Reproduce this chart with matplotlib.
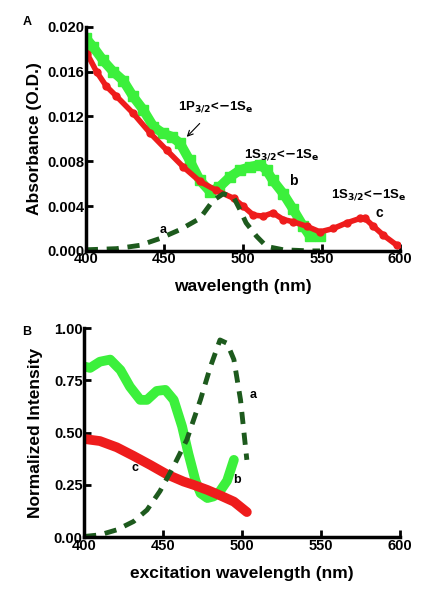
import numpy as np
import matplotlib.pyplot as plt

plt.rcParams['font.family'] = 'Liberation Sans'
plt.rcParams['font.weight'] = 'bold'
plt.rcParams['axes.labelweight'] = 'bold'
plt.rcParams['mathtext.default'] = 'bf'

# panel A - absorbance
wlA_c = [400.8, 406.8, 413, 419.5, 430, 441, 451.4, 462, 472.6, 483, 494, 500, 506.6, 513,
         519, 525.7, 532, 540.5, 549, 557.5, 566, 574.5, 577.7, 583, 589.4, 598]
absA_c = [0.0176, 0.0160, 0.0147, 0.0138, 0.0123, 0.0105, 0.0090, 0.0075, 0.0062, 0.0054,
          0.0047, 0.0040, 0.0032, 0.0031, 0.0034, 0.0028, 0.0026, 0.0022, 0.0017, 0.0020,
          0.0025, 0.0029, 0.0029, 0.0022, 0.0014, 0.0005]
wlA_b = [400, 404.7, 411, 417.4, 423.8, 430, 436.5, 443, 449, 454.6, 460, 466, 472.6, 479,
         485, 491.7, 498, 504.5, 511, 515, 519, 525.7, 532, 538.4, 542.7, 549]
absA_b = [0.0190, 0.0182, 0.0170, 0.0160, 0.0152, 0.0138, 0.0126, 0.0111, 0.0105, 0.0102,
          0.0096, 0.0081, 0.0063, 0.0053, 0.0057, 0.0066, 0.0072, 0.0075, 0.0077, 0.0072,
          0.0063, 0.0051, 0.0037, 0.0022, 0.0013, 0.0013]
wlA_a = [400, 419.5, 434.4, 447, 460, 472.6, 481, 487.5, 494, 498, 502, 508.7, 515, 525.7,
         542.7, 549]
absA_a = [0.0001, 0.0002, 0.0005, 0.0011, 0.0019, 0.0029, 0.0045, 0.0051, 0.0048, 0.0037,
          0.0025, 0.0013, 0.0004, 0.0001, 0.0, 0.0]

# panel B - excitation
wlB_b = [400, 403.8, 410, 416.5, 423, 429, 435.5, 439.8, 446, 451.4, 456.7, 462, 466, 470.5,
         473.7, 478, 482, 486, 490.5, 494.8]
intB_b = [0.817, 0.81, 0.84, 0.85, 0.80, 0.72, 0.657, 0.657, 0.70, 0.705, 0.657, 0.53, 0.40,
          0.27, 0.21, 0.187, 0.195, 0.22, 0.27, 0.37]
wlB_c = [400, 410, 420.7, 431, 442, 452.5, 463, 469.4, 478, 486, 494.8, 503]
intB_c = [0.47, 0.46, 0.43, 0.39, 0.345, 0.30, 0.266, 0.25, 0.226, 0.20, 0.17, 0.12]
wlB_a = [400, 410, 420.7, 431.3, 439.8, 448, 456.7, 465, 473.6, 480, 486, 490.5, 494.8, 499, 503]
intB_a = [0.003, 0.011, 0.035, 0.075, 0.13, 0.22, 0.34, 0.466, 0.657, 0.817, 0.944, 0.928,
          0.85, 0.657, 0.37]

green = '#3cf03c'
red = '#ee1c1c'
dkgreen = '#1d5a1d'

fig = plt.figure(figsize=(4.27, 6.09), dpi=100)
axA = fig.add_axes([0.201, 0.588, 0.736, 0.368])
axB = fig.add_axes([0.197, 0.118, 0.740, 0.343])

for ax in (axA, axB):
    for s in ('top', 'right'):
        ax.spines[s].set_visible(False)
    for s in ('left', 'bottom'):
        ax.spines[s].set_linewidth(2.5)
    ax.tick_params(direction='in', length=5, width=2, labelsize=10.5, pad=1)
    ax.set_xlim(400, 600)
    ax.set_xticks([400, 450, 500, 550, 600])

# A
axA.plot(wlA_b, absA_b, color=green, lw=7, marker='s', ms=7, solid_joinstyle='round')
axA.plot(wlA_c, absA_c, color=red, lw=4, marker='o', ms=5, solid_joinstyle='round')
axA.plot(wlA_a, absA_a, color=dkgreen, lw=3.5, dashes=(2.5, 1.8))
axA.set_ylim(0, 0.020)
axA.set_yticks([0.000, 0.004, 0.008, 0.012, 0.016, 0.020])
axA.set_yticklabels(['0.000', '0.004', '0.008', '0.012', '0.016', '0.020'])
axA.set_xlabel('wavelength (nm)', fontsize=12.5, labelpad=9)
axA.set_ylabel('Absorbance (O.D.)', fontsize=12.5, labelpad=4)
axA.text(449, 0.0019, 'a', fontsize=9, ha='center', va='center')
axA.text(532, 0.0062, 'b', fontsize=10, ha='center', va='center')
axA.text(587, 0.0034, 'c', fontsize=10, ha='center', va='center')
axA.annotate(r'1P$_{3/2}$<$-$1S$_{e}$', xy=(463, 0.0100), xytext=(483, 0.0129),
             fontsize=9.5, ha='center', va='center',
             arrowprops=dict(arrowstyle='->', color='black', lw=0.8, shrinkA=7))
axA.text(524.6, 0.0086, r'1S$_{3/2}$<$-$1S$_{e}$', fontsize=9.5,
         ha='center', va='center')
axA.text(580, 0.0050, r'1S$_{3/2}$<$-$1S$_{e}$', fontsize=9.5,
         ha='center', va='center')
fig.text(0.063, 0.964, 'A', fontsize=9, ha='center', va='center')

# B
axB.plot(wlB_b, intB_b, color=green, lw=7, solid_capstyle='round')
axB.plot(wlB_c, intB_c, color=red, lw=7, solid_capstyle='round')
axB.plot(wlB_a, intB_a, color=dkgreen, lw=3.5, dashes=(2.5, 1.8))
axB.set_ylim(0, 1.0)
axB.set_yticks([0, 0.25, 0.5, 0.75, 1.0])
axB.set_yticklabels(['0.00', '0.25', '0.50', '0.75', '1.00'])
axB.set_xlabel('excitation wavelength (nm)', fontsize=12.5, labelpad=10)
axB.set_ylabel('Normalized Intensity', fontsize=12.5, labelpad=8)
axB.text(507, 0.68, 'a', fontsize=9, ha='center', va='center')
axB.text(496.5, 0.274, 'b', fontsize=9, ha='center', va='center')
axB.text(432.4, 0.33, 'c', fontsize=9, ha='center', va='center')
fig.text(0.063, 0.455, 'B', fontsize=9, ha='center', va='center')

fig.savefig('out.png', dpi=100)
